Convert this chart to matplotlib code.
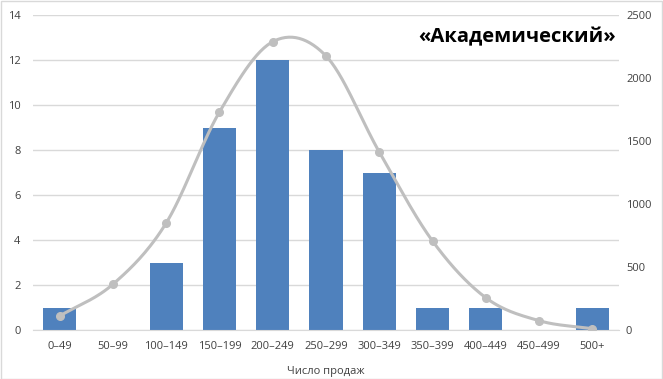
import numpy as np
import matplotlib
matplotlib.use("Agg")
import matplotlib.pyplot as plt
from matplotlib.patches import Rectangle

categories = ["0–49", "50–99", "100–149", "150–199", "200–249", "250–299",
              "300–349", "350–399", "400–449", "450–499", "500+"]
counts = [1, 0, 3, 9, 12, 8, 7, 1, 1, 0, 1]
curve = [111, 363, 849, 1730, 2288, 2175, 1413, 706, 256, 74, 10]
left_ticks = [0, 2, 4, 6, 8, 10, 12, 14]
right_ticks = [0, 500, 1000, 1500, 2000, 2500]

plt.rcParams['font.family'] = ['Open Sans', 'DejaVu Sans']

fig = plt.figure(figsize=(6.63, 3.79), dpi=100)
W, H = 663, 379
ax = fig.add_axes([33 / W, 1 - 330 / H, (619 - 33) / W, (330 - 15) / H])
ax2 = ax.twinx()

x = np.arange(len(categories))
ax.bar(x, counts, width=0.62, color="#4F81BD", zorder=2)
ax.set_xlim(-0.5, len(categories) - 0.5)
ax.set_ylim(0, 14)
ax.set_yticks(left_ticks)
ax.grid(axis="y", color="#D9D9D9", linewidth=1, zorder=0)
ax.set_axisbelow(True)

# Catmull-Rom smoothing for display of the line
def catmull(xs, ys, n=30):
    px = np.concatenate([[2 * xs[0] - xs[1]], xs, [2 * xs[-1] - xs[-2]]])
    py = np.concatenate([[2 * ys[0] - ys[1]], ys, [2 * ys[-1] - ys[-2]]])
    ox, oy = [], []
    for i in range(1, len(px) - 2):
        t = np.linspace(0, 1, n, endpoint=False)
        for arr, out in ((px, ox), (py, oy)):
            p0, p1, p2, p3 = arr[i - 1], arr[i], arr[i + 1], arr[i + 2]
            out.extend(0.5 * ((2 * p1) + (-p0 + p2) * t
                              + (2 * p0 - 5 * p1 + 4 * p2 - p3) * t ** 2
                              + (-p0 + 3 * p1 - 3 * p2 + p3) * t ** 3))
    ox.append(xs[-1]); oy.append(ys[-1])
    return np.array(ox), np.array(oy)

sx, sy = catmull(x.astype(float), np.array(curve, dtype=float))
ax2.plot(sx, sy, color="#BFBFBF", linewidth=2.2, zorder=3, solid_capstyle="round")
ax2.plot(x, curve, linestyle="none", marker="o", markersize=5.5,
         color="#BFBFBF", zorder=4)
ax2.set_ylim(0, 2500)
ax2.set_yticks(right_ticks)

for a in (ax, ax2):
    for s in a.spines.values():
        s.set_visible(False)
    a.tick_params(length=0, labelsize=8, colors="#404040")
ax.spines["bottom"].set_visible(True)
ax.spines["bottom"].set_color("#D9D9D9")
ax.set_xticks(x)
ax.set_xticklabels(categories)
ax.tick_params(axis="x", pad=8)
ax.tick_params(axis="y", pad=9)
ax2.tick_params(axis="y", pad=5)
ax.set_xlabel("Число продаж", fontsize=8, color="#404040", labelpad=10)

ax.text(0.995, 0.93, "«Академический»", transform=ax.transAxes,
        ha="right", va="center", fontsize=14.5, fontweight="bold", color="black")

fig.patches.append(Rectangle((0.5 / W, 0.5 / H), 1 - 1.5 / W, 1 - 1.5 / H,
                             transform=fig.transFigure, fill=False,
                             edgecolor="#D9D9D9", linewidth=1))

fig.savefig("out.png", dpi=100)
